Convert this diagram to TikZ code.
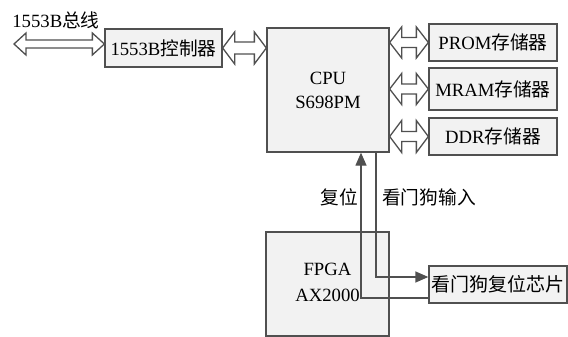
\documentclass[tikz,border=0pt]{standalone}
\usepackage{fontspec}
\setmainfont{Liberation Serif}
\newfontfamily\cjk{Noto Sans CJK SC}
\usetikzlibrary{calc,arrows.meta}

\definecolor{boxgray}{HTML}{F2F2F2}
\definecolor{linegray}{HTML}{505050}

% hollow double arrow: left point, right point, head half, shaft half
\newcommand{\fatarrow}[4]{%
  \draw[fat] let \p1=(#1), \p2=(#2) in
    (\x1,\y1) -- (\x1+12pt,\y1+#3) -- (\x1+12pt,\y1+#4) -- (\x2-12pt,\y1+#4)
    -- (\x2-12pt,\y1+#3) -- (\x2,\y1) -- (\x2-12pt,\y1-#3) -- (\x2-12pt,\y1-#4)
    -- (\x1+12pt,\y1-#4) -- (\x1+12pt,\y1-#3) -- cycle;}

\begin{document}
\begin{tikzpicture}[x=1pt,y=-1pt,
    font=\fontsize{18.7pt}{24pt}\selectfont,
    blk/.style={draw=linegray,fill=boxgray,line width=1.3pt,inner sep=0pt,align=center},
    fat/.style={draw=linegray,fill=white,line width=1.3pt,line join=miter},
    sig/.style={draw=linegray,line width=1.3pt},
    tip/.style={-{Triangle[length=13pt,width=11pt]}}]
  \useasboundingbox (0,0) rectangle (568,337);
  % --- bloky ---
  \node[blk,minimum width=117pt,minimum height=38pt] (ctrl) at (163.5,48) {1553B{\cjk 控制器}};
  \node[blk,minimum width=122pt,minimum height=124pt] (cpu) at (328,90) {CPU\\S698PM};
  \node[blk,minimum width=128pt,minimum height=37pt] (prom) at (493,42.5) {PROM{\cjk 存储器}};
  \node[blk,minimum width=128pt,minimum height=42pt] (mram) at (493,89) {MRAM{\cjk 存储器}};
  \node[blk,minimum width=128pt,minimum height=37pt] (ddr) at (493,136.5) {DDR{\cjk 存储器}};
  \node[blk,minimum width=123pt,minimum height=104pt] (fpga) at (327.5,284)
    {\raisebox{-5pt}{\begin{tabular}{@{}c@{}}FPGA\\[2pt]AX2000\end{tabular}}};
  \node[blk,minimum width=138pt,minimum height=37pt,font=\fontsize{19pt}{24pt}\selectfont] (wdt) at (498,284.5) {\cjk 看门狗复位芯片};
  % --- popisky ---
  \node (buslabel) at (56,20) {1553B{\cjk 总线}};
  \node (rstlabel) at (339,197) {\cjk 复位};
  \node (wdlabel) at (429,197) {\cjk 看门狗输入};
  \coordinate (busend) at (14,44);
  % --- sbernice ---
  \fatarrow{busend}{busend -| ctrl.west}{11pt}{4pt}
  \fatarrow{ctrl.east}{ctrl.east -| cpu.west}{16pt}{6pt}
  \fatarrow{cpu.east |- prom.west}{prom.west}{15.5pt}{5pt}
  \fatarrow{cpu.east |- mram.west}{mram.west}{15.5pt}{5pt}
  \fatarrow{cpu.east |- ddr.west}{ddr.west}{16pt}{5pt}
  % --- signaly ---
  \draw[sig,tip] ([xshift=48pt]cpu.south) |- ([yshift=7.5pt]wdt.west);
  \draw[sig,tip] ([yshift=-13.5pt]wdt.west) -| ([xshift=33pt]cpu.south);
\end{tikzpicture}
\end{document}
